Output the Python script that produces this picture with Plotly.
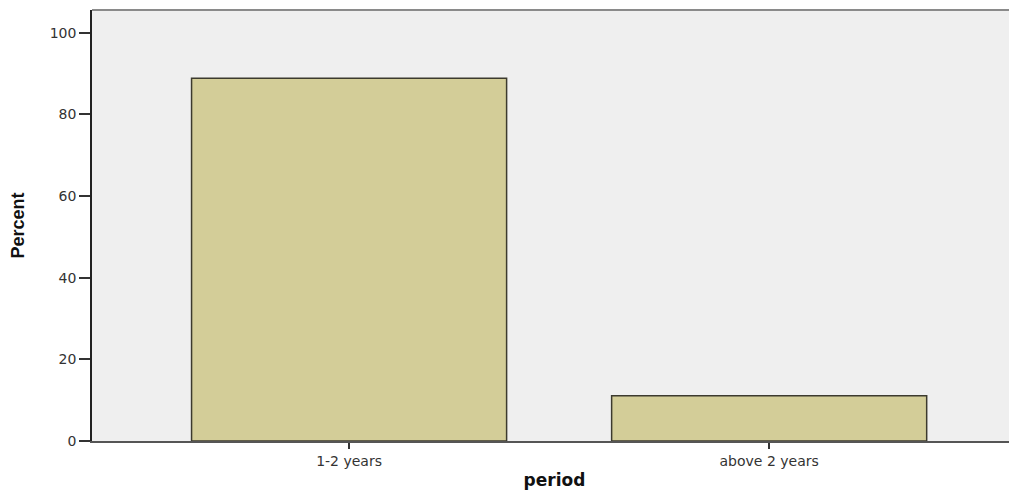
import plotly.graph_objects as go

categories = ["1-2 years", "above 2 years"]
percent = [88.9, 11.1]
y_ticks = [0, 20, 40, 60, 80, 100]

fig = go.Figure()
fig.add_trace(go.Bar(
    x=categories, y=percent, width=0.75,
    marker=dict(color="#d3cd98", line=dict(color="#3c3a2e", width=1.5)),
))

fig.update_layout(
    width=1009, height=484,
    margin=dict(l=84, r=0, t=2, b=51),
    paper_bgcolor="white", plot_bgcolor="#efefef",
    showlegend=False,
    font=dict(family="DejaVu Sans, Verdana, sans-serif", size=14, color="#333333"),
    xaxis=dict(
        range=[-0.612, 1.59], showgrid=False, zeroline=False,
        showline=True, linecolor="#555555", linewidth=1.5,
        ticks="outside", ticklen=6, tickcolor="#333333", tickwidth=1.5,
        tickfont=dict(size=14, color="#333333"),
        title=dict(text="period", standoff=7,
                   font=dict(family="DejaVu Sans, Verdana, sans-serif", size=17, color="#111111", weight="bold")),
    ),
    yaxis=dict(
        range=[0, 105.6], showgrid=False, zeroline=False,
        showline=True, linecolor="#222222", linewidth=1.5,
        ticks="outside", ticklen=11, tickcolor="#333333", tickwidth=1.5,
        tickvals=y_ticks, tickfont=dict(size=14, color="#333333"),
        title=dict(text="Percent", standoff=22,
                   font=dict(family="Liberation Sans Narrow, Arial Narrow, sans-serif", size=18, color="#111111", weight="bold")),
    ),
    shapes=[dict(type="line", xref="paper", yref="paper", x0=0, x1=1, y0=1, y1=1,
                 line=dict(color="#8a8a8a", width=2))],
    bargap=0.25,
)

fig.write_html("out.html")
